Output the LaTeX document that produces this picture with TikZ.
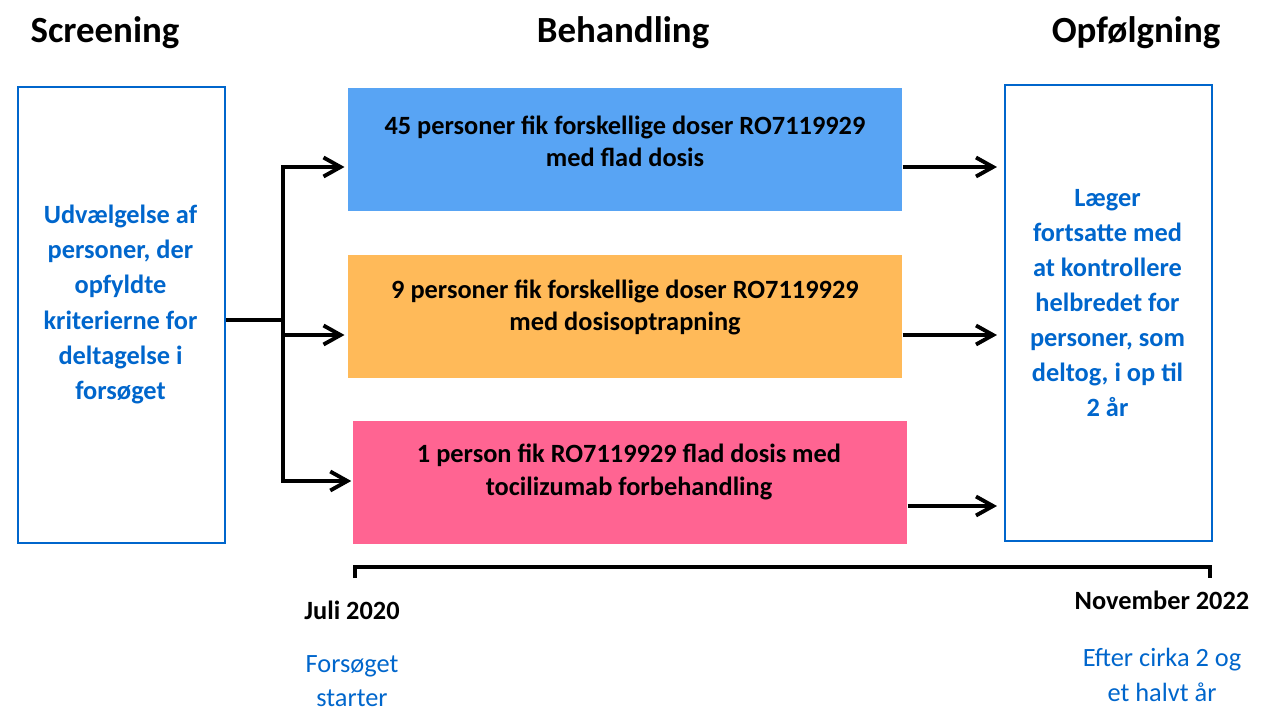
\documentclass[tikz,border=0pt]{standalone}
\usepackage{fontspec}
\setmainfont{Carlito}
\usetikzlibrary{positioning}
\usetikzlibrary{arrows.meta}
\definecolor{frameC}{HTML}{0066CC}
\definecolor{flatC}{HTML}{58A4F4}
\definecolor{escC}{HTML}{FFBA59}
\definecolor{tociC}{HTML}{FF6492}

\begin{document}
\begin{tikzpicture}[scale=1.0,
  phase/.style={anchor=base,font=\bfseries\fontsize{21}{25}\selectfont},
  framebox/.style={anchor=south west,draw=frameC,line width=1.2pt,shape=rectangle,minimum height=9.12cm,minimum width=4.14cm,inner sep=0pt},
  armbox/.style={anchor=south west,shape=rectangle,minimum height=2.46cm,minimum width=11.08cm,inner sep=0pt},
  armtext/.style={align=center,font=\bfseries\fontsize{15}{18.3}\selectfont},
  sidetext/.style={align=center,text=frameC,font=\bfseries\fontsize{15}{20}\selectfont},
  datetext/.style={font=\bfseries\fontsize{15}{18}\selectfont},
  notetext/.style={align=center,text=frameC,font=\fontsize{15}{19.5}\selectfont},
  link/.style={line width=2.2pt},
  arr/.style={line width=2.2pt,-{Straight Barb[length=0.34cm,width=0.38cm]}}]
\useasboundingbox (0cm,0cm) rectangle (25.32cm,14.22cm);

\node[phase] (head0) at (2.1cm,13.36cm) {Screening};
\node[phase] (head1) at (12.46cm,13.36cm) {Behandling};
\node[phase] (head2) at (22.72cm,13.36cm) {Opfølgning};

\node[framebox] (screen) at (0.34cm,3.34cm) {};
\node[sidetext] (screenT) at (2.41cm,8.13cm)
{Udvælgelse af\\personer, der\\opfyldte\\kriterierne for\\deltagelse i\\forsøget};

\node[armbox,fill=flatC] (arm0) at (6.96cm,10.0cm) {};
\node[armtext] (arm0T) at (12.5cm,11.4cm)
{45 personer fik forskellige doser RO7119929\\med flad dosis};
\node[armbox,fill=escC] (arm1) at (6.96cm,6.66cm) {};
\node[armtext] (arm1T) at (12.5cm,8.07cm)
{9 personer fik forskellige doser RO7119929\\med dosisoptrapning};
\node[armbox,fill=tociC] (arm2) at (7.06cm,3.34cm) {};
\node[armtext] (arm2T) at (12.58cm,4.78cm)
{1 person fik RO7119929 flad dosis med\\tocilizumab forbehandling};

\node[framebox] (follow) at (20.08cm,3.38cm) {};
\node[sidetext] (followT) at (22.15cm,8.16cm)
{Læger\\fortsatte med\\at kontrollere\\helbredet for\\personer, som\\deltog, i op til\\2 år};

\coordinate (fork) at (5.66cm,7.82cm);
\coordinate (fork0) at (5.66cm,10.88cm);
\coordinate (fork1) at (5.66cm,7.52cm);
\coordinate (fork2) at (5.66cm,4.6cm);
\coordinate (exit2) at (19cm,4.1cm);
\draw[link] (screen.east |- fork) -- (fork);
\draw[arr,shorten >=2pt] (fork) |- (arm0.west |- fork0);
\draw[arr,shorten >=2pt] (fork1) -- (arm1.west |- fork1);
\draw[arr,shorten >=1pt] (fork) |- (arm2.west |- fork2);

\draw[arr,shorten >=4pt] (arm0.east |- fork0) -- (follow.west |- fork0);
\draw[arr,shorten >=4pt] (arm1.east |- fork1) -- (follow.west |- fork1);
\draw[arr,shorten >=4pt] (arm2.east |- exit2) -- (follow.west |- exit2);

\coordinate (start) at (7.1cm,2.66cm);
\coordinate (stop) at (24.2cm,2.66cm);
\draw[link] (start) -- ++(0cm,0.22cm) -| (stop);

\node[datetext] (startD) at (7.04cm,2.02cm) {Juli 2020};
\node[notetext] (startN) at (7.04cm,0.6cm) {Forsøget\\starter};
\node[datetext] (stopD) at (23.24cm,2.22cm) {November 2022};
\node[notetext] (stopN) at (23.24cm,0.72cm) {Efter cirka 2 og\\et halvt år};

\end{tikzpicture}
\end{document}
